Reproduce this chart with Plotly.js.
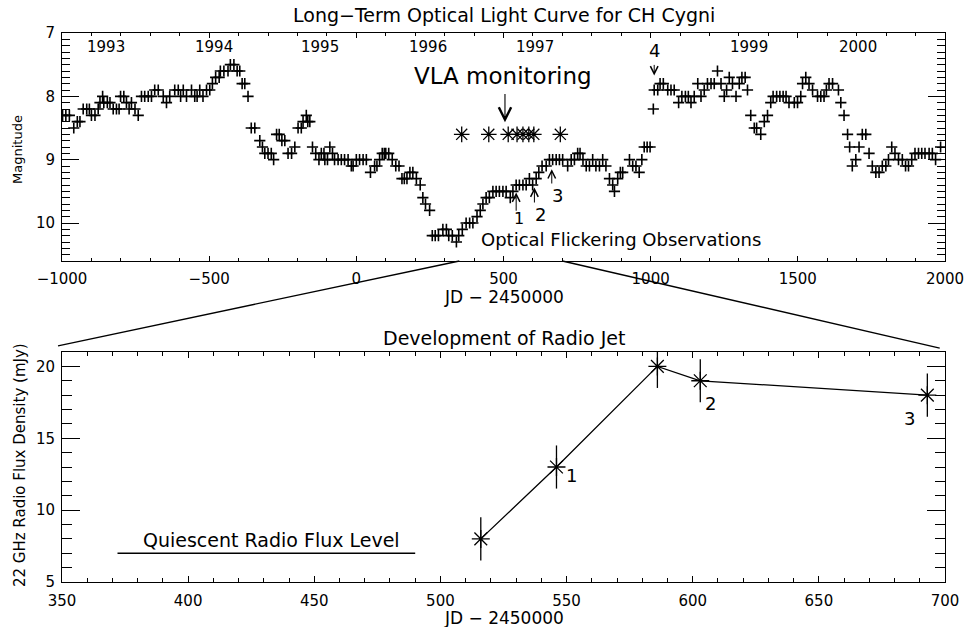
<!DOCTYPE html>
<html>
<head>
<meta charset="utf-8">
<script src="https://cdn.plot.ly/plotly-3.0.1.min.js"></script>
<style>html,body{margin:0;padding:0;background:#fff;}#chart{width:965px;height:627px;}</style>
</head>
<body>
<div id="chart"></div>
<script>
// ---------- Optical light curve (JD - 2450000, magnitude) ----------
const lcJD = [
 -998,-987,-975,-960,-948,-939,-928,-916,-907,-900,-888,-877,-871,-862,-858,-846,-837,-826,-815,-806,
 -801,-790,-781,-772,-764,-752,-741,-730,-719,-707,-696,-685,-673,-656,-645,-634,-617,-605,-597,-588,
 -577,-560,-549,-541,-532,-521,-509,-498,-489,-478,-466,-462,-450,-436,-428,-416,-405,-396,-388,-379,
 -368,-357,-345,-328,-319,-311,-300,-289,-281,-271,-262,-253,-243,-232,-220,-209,-198,-187,-181,-170,
 -165,-158,-149,-138,-127,-119,-110,-107,-98,-90,-81,-74,-62,-51,-40,-28,-17,-11,0,11,
 23,34,48,62,70,79,88,95,100,110,122,134,145,155,163,172,182,192,204,217,
 226,235,249,258,268,279,294,306,314,326,340,348,360,373,385,396,410,421,430,441,
 452,464,475,486,498,509,523,532,543,554,566,577,588,599,611,620,631,645,656,667,
 679,690,701,718,730,741,752,760,770,781,792,803,814,826,837,848,860,871,877,888,
 897,905,928,939,950,961,970,978,988,998,1009,1012,1024,1032,1043,1058,1069,1080,1095,1106,
 1118,1128,1137,1148,1160,1171,1182,1193,1205,1216,1227,1239,1250,1258,1267,1278,1290,1301,1310,1321,
 1329,1340,1352,1360,1374,1386,1397,1408,1416,1428,1439,1450,1460,1470,1488,1499,1510,1516,1527,1538,
 1550,1567,1578,1589,1597,1606,1618,1638,1646,1657,1669,1676,1685,1697,1708,1719,1731,1742,1753,1765,
 1776,1787,1799,1808,1819,1830,1842,1855,1866,1876,1887,1898,1910,1921,1932,1946,1957,1968,1985
];
const lcMag = [
 8.3,8.3,8.3,8.5,8.4,8.4,8.2,8.2,8.2,8.3,8.3,8.2,8.1,8.0,8.1,8.1,8.1,8.2,8.2,8.2,
 8.0,8.0,8.1,8.2,8.1,8.2,8.3,8.0,8.0,8.0,8.0,7.9,7.9,8.0,8.1,8.0,7.9,7.9,8.0,7.9,
 8.0,7.9,8.0,8.0,7.9,8.0,7.9,7.9,7.8,7.7,7.7,7.6,7.6,7.6,7.5,7.5,7.6,7.6,7.8,7.8,
 8.0,8.5,8.5,8.7,8.8,8.9,8.9,8.9,9.0,8.6,8.6,8.7,8.7,8.9,8.9,8.8,8.5,8.5,8.4,8.3,
 8.4,8.4,8.8,8.9,9.0,8.9,8.9,9.0,9.0,8.8,8.9,9.0,9.0,9.0,9.0,9.0,9.1,9.1,9.0,9.0,
 9.0,9.0,9.2,9.1,9.1,9.0,8.9,8.9,8.9,8.9,9.0,9.1,9.1,9.3,9.3,9.3,9.2,9.2,9.3,9.4,
 9.6,9.7,9.8,10.2,10.2,10.2,10.1,10.1,10.2,10.2,10.3,10.2,10.1,10.0,10.0,10.0,9.9,9.8,9.7,9.6,
 9.6,9.5,9.5,9.5,9.5,9.5,9.6,9.5,9.4,9.4,9.4,9.4,9.3,9.4,9.3,9.2,9.1,9.1,9.0,9.0,
 9.0,9.0,9.0,9.1,9.0,9.0,8.9,8.9,9.0,9.1,9.1,9.0,9.1,9.1,9.0,9.1,9.3,9.4,9.5,9.3,
 9.2,9.2,9.0,9.1,9.1,9.2,9.0,8.8,8.8,8.8,8.2,7.9,7.9,7.8,7.8,7.9,7.9,7.9,8.1,8.0,
 8.0,8.0,8.1,8.0,7.8,8.0,7.9,7.8,7.8,7.8,7.6,7.8,8.0,7.9,7.7,7.8,8.0,7.8,7.7,7.7,
 7.9,8.3,8.5,8.5,8.6,8.4,8.3,8.1,8.0,8.0,8.0,8.0,8.0,8.1,8.1,8.1,8.0,7.8,7.7,7.8,
 7.9,8.0,8.0,8.0,7.9,7.8,7.8,7.9,8.1,8.3,8.6,8.8,9.1,9.0,8.8,8.6,8.6,8.9,9.1,9.2,
 9.2,9.1,9.1,9.0,8.8,8.9,9.0,9.0,9.1,9.1,9.0,8.9,8.9,8.9,8.9,8.9,8.9,9.0,8.8
];

// ---------- VLA monitoring epochs (top panel asterisks) ----------
const vlaJD = [358, 450, 516, 546, 566, 586, 603, 693];
const vlaMag = [8.6, 8.6, 8.6, 8.6, 8.6, 8.6, 8.6, 8.6];

// ---------- Year labels ----------
const yearLabels = ['1993', '1994', '1995', '1996', '1997', '1999', '2000'];
const yearJD = [-852, -482, -122, 242, 608, 1335, 1705];
const yearMag = 7.22;

// ---------- Radio jet development (bottom panel) ----------
const radioJD = [516, 546, 586, 603, 693];
const radioFlux = [8, 13, 20, 19, 18];
const radioErr = [1.5, 1.5, 1.5, 1.5, 1.5];
const radioLabels = ['1', '2', '3'];
const radioLabelJD = [552, 607, 686];
const radioLabelFlux = [12.44, 17.4, 16.4];

// Quiescent radio flux level
const quietJD = [372, 490];
const quietFlux = [7, 7];

// Flickering observation epochs (arrows in top panel)
const flickLabels = ['1', '2', '3'];
const flickJD = [543, 605, 664];
const flickHeadMag = [9.52, 9.44, 9.15];
const flickTailMag = [9.83, 9.70, 9.40];
const flickLabelJD = [554, 626, 682];
const flickLabelMag = [9.93, 9.86, 9.57];

// Axis ranges
const topX = [-1000, 2000], topY = [10.6, 7];
const botX = [350, 700], botY = [5, 21];
const topDomain = [0.5847, 1], botDomain = [0, 0.4189];

const FONT = 'DejaVu Sans, sans-serif';
const K = '#000';

const traces = [
  {x: lcJD, y: lcMag, xaxis: 'x', yaxis: 'y', mode: 'markers', type: 'scatter',
   marker: {symbol: 'cross-thin-open', size: 8, color: K, line: {width: 1.6, color: K}}, hoverinfo: 'x+y'},
  {x: vlaJD, y: vlaMag, xaxis: 'x', yaxis: 'y', mode: 'markers', type: 'scatter',
   marker: {symbol: 'asterisk-open', size: 13, color: K, line: {width: 1.3, color: K}}},
  {x: radioJD, y: radioFlux, xaxis: 'x2', yaxis: 'y2', mode: 'lines+markers', type: 'scatter',
   line: {color: K, width: 1.3},
   marker: {symbol: 'asterisk-open', size: 15, color: K, line: {width: 1.3, color: K}},
   error_y: {type: 'data', array: radioErr, visible: true, width: 0, thickness: 1.3, color: K}},
  {x: quietJD, y: quietFlux, xaxis: 'x2', yaxis: 'y2', mode: 'lines', type: 'scatter',
   line: {color: K, width: 1.3}}
];

const annotations = [];
// titles
annotations.push({xref: 'paper', yref: 'paper', x: 0.5, y: 1.033, text: 'Long\u2212Term Optical Light Curve for CH Cygni',
  showarrow: false, font: {family: FONT, size: 19, color: K}, yanchor: 'middle'});
annotations.push({xref: 'paper', yref: 'paper', x: 0.5, y: 0.444, text: 'Development of Radio Jet',
  showarrow: false, font: {family: FONT, size: 19, color: K}, yanchor: 'middle'});
// axis titles
annotations.push({xref: 'paper', yref: 'paper', x: 0.5, y: 0.519, text: 'JD \u2212 2450000',
  showarrow: false, font: {family: FONT, size: 17, color: K}, yanchor: 'middle'});
annotations.push({xref: 'paper', yref: 'paper', x: 0.5, y: -0.0656, text: 'JD \u2212 2450000',
  showarrow: false, font: {family: FONT, size: 17, color: K}, yanchor: 'middle'});
annotations.push({xref: 'paper', yref: 'paper', x: -0.0498, y: 0.787, text: 'Magnitude', textangle: -90,
  showarrow: false, font: {family: FONT, size: 13, color: K}, xanchor: 'center', yanchor: 'middle'});
annotations.push({xref: 'paper', yref: 'paper', x: -0.0476, y: 0.213, text: '22 GHz Radio Flux Density (mJy)', textangle: -90,
  showarrow: false, font: {family: FONT, size: 15, color: K}, xanchor: 'center', yanchor: 'middle'});
// year labels
yearLabels.forEach((t, i) => annotations.push({xref: 'x', yref: 'y', x: yearJD[i], y: yearMag, text: t,
  showarrow: false, font: {family: FONT, size: 15, color: K}}));
// VLA monitoring
annotations.push({xref: 'x', yref: 'y', x: 498, y: 7.68, text: 'VLA monitoring', showarrow: false,
  font: {family: FONT, size: 23, color: K}});
annotations.push({xref: 'x', yref: 'y', x: 505, y: 8.41, axref: 'x', ayref: 'y', ax: 505, ay: 7.94, text: '',
  showarrow: true, arrowhead: 5, arrowsize: 2.2, arrowwidth: 1.1, arrowcolor: K});
// flickering arrows
flickLabels.forEach((t, i) => {
  annotations.push({xref: 'x', yref: 'y', x: flickJD[i], y: flickHeadMag[i], axref: 'x', ayref: 'y',
    ax: flickJD[i], ay: flickTailMag[i], text: '', showarrow: true, arrowhead: 5, arrowsize: 1.5, arrowwidth: 1.0, arrowcolor: K});
  annotations.push({xref: 'x', yref: 'y', x: flickLabelJD[i], y: flickLabelMag[i], text: t, showarrow: false,
    font: {family: FONT, size: i === 0 ? 16 : 18, color: K}});
});
// arrow 4
annotations.push({xref: 'x', yref: 'y', x: 1012, y: 7.27, text: '4', showarrow: false, font: {family: FONT, size: 18, color: K}});
annotations.push({xref: 'x', yref: 'y', x: 1012, y: 7.67, axref: 'x', ayref: 'y', ax: 1012, ay: 7.48, text: '',
  showarrow: true, arrowhead: 5, arrowsize: 1.5, arrowwidth: 1.0, arrowcolor: K});
annotations.push({xref: 'x', yref: 'y', x: 899, y: 10.265, text: 'Optical Flickering Observations', showarrow: false,
  font: {family: FONT, size: 18, color: K}});
// bottom panel labels
radioLabels.forEach((t, i) => annotations.push({xref: 'x2', yref: 'y2', x: radioLabelJD[i], y: radioLabelFlux[i],
  text: t, showarrow: false, font: {family: FONT, size: 18, color: K}}));
annotations.push({xref: 'x2', yref: 'y2', x: 433, y: 7.9, text: 'Quiescent Radio Flux Level', showarrow: false,
  font: {family: FONT, size: 19, color: K}});

// connecting zoom lines (from top panel's bottom at botX range to bottom panel corners)
const fx = v => (v - topX[0]) / (topX[1] - topX[0]);
const shapes = [
  {type: 'line', xref: 'paper', yref: 'paper', x0: fx(botX[0]), y0: topDomain[0], x1: -0.0045, y1: 0.43, line: {color: K, width: 1.3}},
  {type: 'line', xref: 'paper', yref: 'paper', x0: fx(botX[1]), y0: topDomain[0], x1: 0.994, y1: 0.4262, line: {color: K, width: 1.3}}
];

const axBase = {showgrid: false, zeroline: false, showline: true, linecolor: K, linewidth: 1, mirror: 'ticks',
  ticks: 'inside', tickcolor: K, tickwidth: 1, tickfont: {family: FONT, size: 15, color: K}};

const layout = {
  width: 965, height: 627, margin: {l: 62, r: 20, t: 33, b: 45},
  paper_bgcolor: '#fff', plot_bgcolor: '#fff', showlegend: false,
  font: {family: FONT, color: K},
  xaxis: Object.assign({}, axBase, {domain: [0, 1], anchor: 'y', range: topX, dtick: 500, tick0: 0, ticklen: 5,
    minor: {dtick: 100, tick0: 0, ticks: 'inside', ticklen: 3, tickcolor: K, tickwidth: 1}, ticklabelstandoff: 4}),
  yaxis: Object.assign({}, axBase, {domain: topDomain, anchor: 'x', range: topY, dtick: 1, tick0: 7, ticklen: 17,
    minor: {dtick: 0.1, tick0: 7, ticks: 'inside', ticklen: 8, tickcolor: K, tickwidth: 1}, ticklabelstandoff: 3}),
  xaxis2: Object.assign({}, axBase, {domain: [0, 1], anchor: 'y2', range: botX, dtick: 50, tick0: 350, ticklen: 6,
    minor: {dtick: 10, tick0: 350, ticks: 'inside', ticklen: 4, tickcolor: K, tickwidth: 1}, ticklabelstandoff: 5}),
  yaxis2: Object.assign({}, axBase, {domain: botDomain, anchor: 'x2', range: botY, dtick: 5, tick0: 5, ticklen: 18,
    minor: {dtick: 1, tick0: 5, ticks: 'inside', ticklen: 10, tickcolor: K, tickwidth: 1}, ticklabelstandoff: 3}),
  annotations: annotations,
  shapes: shapes
};

Plotly.newPlot('chart', traces, layout, {displayModeBar: false, staticPlot: true});
</script>
</body>
</html>
